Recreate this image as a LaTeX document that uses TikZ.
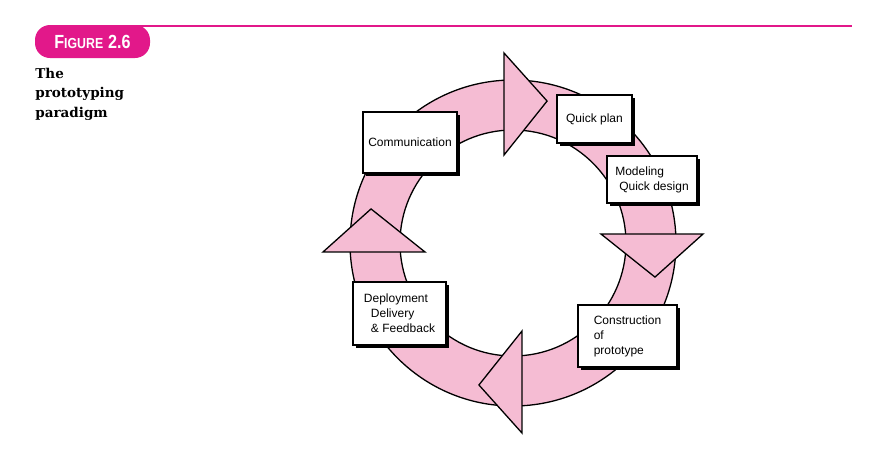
\documentclass[tikz,border=0pt]{standalone}
\usepackage{fontspec}
\setmainfont{Liberation Sans}
\newfontfamily\capfont{DejaVu Serif}
\newfontfamily\figfont[FakeStretch=0.85]{Liberation Sans}
\usepackage{tikz}
\usetikzlibrary{arrows,shadows,calc}
\definecolor{ringpink}{RGB}{245,188,211}
\definecolor{figmagenta}{RGB}{226,24,138}

\begin{document}
\begin{tikzpicture}[x=1pt,y=-1pt,thick,
  box node/.style={rectangle,fill=white,draw,line width=1.3pt,align=left,
        font=\fontsize{12}{15}\selectfont,
        drop shadow={shadow xshift=3pt,shadow yshift=-3pt,fill=black,opacity=1}},
  ring/.style={fill=ringpink,draw=black,line width=1.3pt,line join=miter},
  fig node/.style={rectangle,rounded corners=15pt,fill=figmagenta,text=white,
        font=\figfont\bfseries,minimum width=115,minimum height=33,inner sep=0pt}]
  \useasboundingbox (0,0) rectangle (875,456);

  \node[fig node] (fig) at (92.5,41.5)
    {{\fontsize{19}{19}\selectfont F}{\fontsize{14.5}{14.5}\selectfont IGURE}\hspace{5pt}{\fontsize{19}{19}\selectfont 2.6}};
  \coordinate (rule end) at (852,26.2);
  \draw[figmagenta,line width=2.5pt] (fig.north |- rule end) -- (rule end);
  \node[anchor=north west,inner sep=0pt,align=left,
        font=\capfont\bfseries\fontsize{13.5}{19.5}\selectfont] (caption) at (35,67.5)
    {The\\prototyping\\paradigm};

  \coordinate (c) at (513,243);
  \path[ring,even odd rule] (c) circle[radius=163] (c) circle[radius=113];
  \foreach \a in {-90,0,90,180}
    \draw[ring] ($(c)+(\a-5.8:88.5)$) -- ($(c)+(\a+13.5:146)$)
      -- ($(c)+(\a-2.7:190.2)$) -- cycle;

  \node[box node,minimum width=94,minimum height=61] (comm) at (410,142.5) {Communication};
  \node[box node,minimum width=75,minimum height=48] (plan) at (594.5,119) {Quick plan};
  \node[box node,minimum width=90,minimum height=47] (model) at (652,179.5)
    {Modeling\\\hspace*{4pt}Quick design};
  \node[box node,minimum width=99,minimum height=62] (constr) at (627.5,336)
    {Construction\\of\\prototype};
  \node[box node,minimum width=93,minimum height=63] (deploy) at (399.5,313.5)
    {Deployment\\\hspace*{7pt}Delivery\\\hspace*{7pt}\& Feedback};
\end{tikzpicture}
\end{document}
